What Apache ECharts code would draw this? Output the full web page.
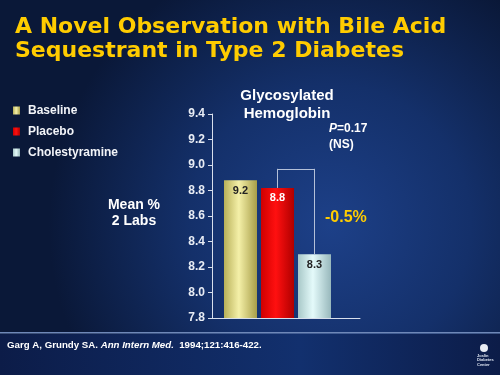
<!DOCTYPE html>
<html>
<head>
<meta charset="utf-8">
<script src="https://cdn.jsdelivr.net/npm/echarts@6/dist/echarts.min.js"></script>
<style>html,body{margin:0;padding:0;background:#0b1a3e;}#c{width:500px;height:375px;}</style>
</head>
<body>
<div id="c"></div>
<script>
const categories = ['Baseline', 'Placebo', 'Cholestyramine'];
const values = [8.88, 8.82, 8.30];
const valueLabels = ['9.2', '8.8', '8.3'];
const yMin = 7.8, yMax = 9.4, yStep = 0.2;
const bracketTop = 8.97;

const F = "'Liberation Sans', Arial, sans-serif";
const FT = "'DejaVu Sans', Verdana, sans-serif";
const barColors = [
  {type:'linear',x:0,y:0,x2:1,y2:0,colorStops:[{offset:0,color:'#b8b058'},{offset:0.45,color:'#f4f0a8'},{offset:1,color:'#a89e48'}]},
  {type:'linear',x:0,y:0,x2:1,y2:0,colorStops:[{offset:0,color:'#d00000'},{offset:0.45,color:'#ff1010'},{offset:1,color:'#b00000'}]},
  {type:'linear',x:0,y:0,x2:1,y2:0,colorStops:[{offset:0,color:'#a8c8c8'},{offset:0.45,color:'#e4fafa'},{offset:1,color:'#98b8bc'}]}
];
const labelColors = ['#222222', '#ffffff', '#222222'];

const chart = echarts.init(document.getElementById('c'));
const series = categories.map((name, i) => ({
  name: name,
  type: 'bar',
  xAxisIndex: 1,
  yAxisIndex: 1,
  barWidth: 33,
  barGap: '-100%',
  data: categories.map((c, j) => j === i ? values[j] : '-'),
  itemStyle: {color: barColors[i]},
  label: {
    show: true, position: 'insideTop', distance: 5,
    formatter: () => valueLabels[i],
    color: labelColors[i], fontSize: 11, fontWeight: 'bold', fontFamily: F
  }
}));
series[2].markLine = {
  silent: true, symbol: 'none', label: {show: false},
  lineStyle: {color: '#b4c0d8', width: 1, type: 'solid'},
  data: [
    [{coord: ['Placebo', values[1]]}, {coord: ['Placebo', bracketTop]}],
    [{coord: ['Placebo', bracketTop]}, {coord: ['Cholestyramine', bracketTop]}],
    [{coord: ['Cholestyramine', bracketTop]}, {coord: ['Cholestyramine', values[2]]}]
  ]
};

chart.setOption({
  animation: false,
  graphic: [
    {type: 'rect', z: -10, shape: {x: 0, y: 0, width: 500, height: 375},
     style: {fill: {type: 'radial', x: 0.66, y: 0.6, r: 0.75,
       colorStops: [{offset: 0, color: '#1d4088'}, {offset: 0.5, color: '#14306a'}, {offset: 1, color: '#0a1838'}]}}},
    {type: 'rect', z: -9, shape: {x: 0, y: 334, width: 500, height: 41},
     style: {fill: {type: 'linear', x: 0, y: 0, x2: 1, y2: 0,
       colorStops: [{offset: 0, color: '#0c1c48'}, {offset: 0.6, color: '#12306e'}, {offset: 1, color: '#0c1c48'}]}}},
    {type: 'rect', z: -8, shape: {x: 0, y: 332, width: 500, height: 1.5},
     style: {fill: '#6f88b8'}},
    {type: 'circle', shape: {cx: 484, cy: 348, r: 4}, style: {fill: '#e8ecf4'}},
    {type: 'text', left: 477, top: 353, style: {text: 'Joslin\nDiabetes\nCenter', fill: '#dfe6f2', font: 'bold 4px ' + F, lineHeight: 4.8}}
  ],
  title: [
    {text: 'A Novel Observation with Bile Acid\nSequestrant in Type 2 Diabetes', left: 15, top: 15, padding: 0,
     textStyle: {color: '#FFCC00', fontSize: 22, fontWeight: 'bold', fontFamily: FT, lineHeight: 24}},
    {text: 'Glycosylated\nHemoglobin', left: 287, top: 87, textAlign: 'center', padding: 0,
     textStyle: {color: '#ffffff', fontSize: 15, fontWeight: 'bold', fontFamily: F, lineHeight: 18}},
    {text: '{i|P}=0.17\n(NS)', left: 329, top: 121, padding: 0,
     textStyle: {color: '#ffffff', fontSize: 12, fontFamily: F, lineHeight: 16,
       rich: {i: {fontStyle: 'italic', color: '#ffffff', fontSize: 12, fontFamily: F}}}},
    {text: '-0.5%', left: 325, top: 210, padding: 0,
     textStyle: {color: '#FFCC00', fontSize: 16, fontWeight: 'bold', fontFamily: F}},
    {text: 'Mean %\n2 Labs', left: 134, top: 197, textAlign: 'center', padding: 0,
     textStyle: {color: '#ffffff', fontSize: 14, fontWeight: 'bold', fontFamily: F, lineHeight: 16}},
    {text: 'Garg A, Grundy SA. {i|Ann Intern Med.}  1994;121:416-422.', left: 7, top: 340, padding: 0,
     textStyle: {color: '#ffffff', fontSize: 9.7, fontWeight: 'bold', fontFamily: F,
       rich: {i: {fontStyle: 'italic', fontWeight: 'bold', color: '#ffffff', fontSize: 9.7, fontFamily: F}}}}
  ],
  legend: {
    orient: 'vertical', left: 13, top: 104, itemWidth: 7, itemHeight: 8, itemGap: 8, padding: 0,
    icon: 'rect', selectedMode: false,
    textStyle: {color: '#f2f4f8', fontSize: 12, fontWeight: 'bold', fontFamily: F, lineHeight: 13, padding: [0, 0, 0, 3]},
    data: categories
  },
  grid: [
    {left: 212, width: 148, top: 114, bottom: 57},
    {left: 222, width: 111, top: 114, bottom: 57}
  ],
  xAxis: [
    {type: 'category', gridIndex: 0, data: [''], axisLine: {lineStyle: {color: '#d8dfec', width: 1}},
     axisTick: {show: false}, axisLabel: {show: false}},
    {type: 'category', gridIndex: 1, data: categories, show: false}
  ],
  yAxis: [
    {type: 'value', gridIndex: 0, min: yMin, max: yMax, interval: yStep,
     axisLine: {show: true, lineStyle: {color: '#d8dfec', width: 1}},
     axisTick: {show: true, length: 4, lineStyle: {color: '#d8dfec'}},
     splitLine: {show: false},
     axisLabel: {color: '#e8ecf4', fontSize: 12, fontWeight: 'bold', fontFamily: F, margin: 7,
       formatter: v => v.toFixed(1)}},
    {type: 'value', gridIndex: 1, min: yMin, max: yMax, interval: yStep, show: false}
  ],
  series: series
});
</script>
</body>
</html>
